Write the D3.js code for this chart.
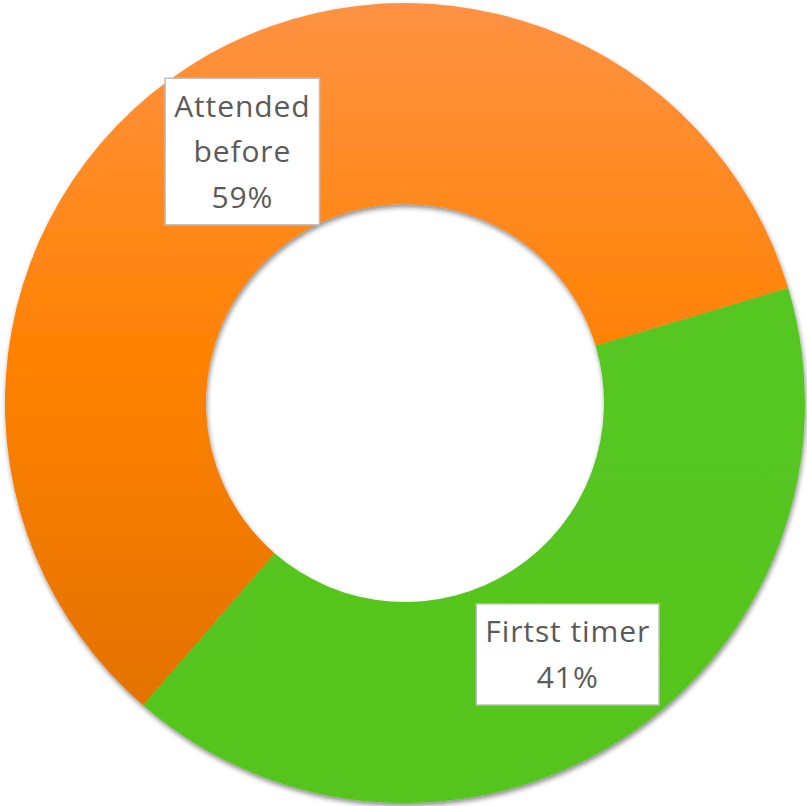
<!DOCTYPE html>
<html><head><meta charset="utf-8">
<script src="https://cdn.jsdelivr.net/npm/d3@7"></script>
<style>html,body{margin:0;padding:0;background:#fff;}</style>
</head><body>
<svg id="c" width="807" height="806"></svg>
<script>
const categories = ["Attended before", "Firtst timer"];
const values = [59, 41];
const labelLines = [["Attended", "before", "59%"], ["Firtst timer", "41%"]];

const svg = d3.select("#c");
const cx = 405, cy = 403, rOuter = 400, rInner = 199;
const defs = svg.append("defs");
const f = defs.append("filter").attr("id", "sh").attr("x", "-10%").attr("y", "-10%").attr("width", "120%").attr("height", "120%");
f.append("feDropShadow").attr("dx", 1).attr("dy", 3).attr("stdDeviation", 2.5).attr("flood-color", "#000").attr("flood-opacity", 0.45);

// gradients in the translated group's user space
const gO = defs.append("linearGradient").attr("id", "gO").attr("gradientUnits", "userSpaceOnUse")
  .attr("x1", 0).attr("y1", 3 - cy).attr("x2", 0).attr("y2", 710 - cy);
gO.append("stop").attr("offset", "0%").attr("stop-color", "#FF9243");
gO.append("stop").attr("offset", "50%").attr("stop-color", "#FF8202");
gO.append("stop").attr("offset", "100%").attr("stop-color", "#E37200");
const gG = defs.append("linearGradient").attr("id", "gG").attr("gradientUnits", "userSpaceOnUse")
  .attr("x1", 0).attr("y1", -rOuter).attr("x2", 0).attr("y2", rOuter);
gG.append("stop").attr("offset", "0%").attr("stop-color", "#57C821");
gG.append("stop").attr("offset", "100%").attr("stop-color", "#55C41F");
const fills = ["url(#gO)", "url(#gG)"];

const start = 220.9 * Math.PI / 180;
const pie = d3.pie().sort(null).value(d => d).startAngle(start).endAngle(start + 2 * Math.PI);
const arcs = pie(values);
const arc = d3.arc().innerRadius(rInner).outerRadius(rOuter);

const g = svg.append("g").attr("transform", `translate(${cx},${cy})`);
g.append("g").attr("filter", "url(#sh)").selectAll("path").data(arcs).join("path")
  .attr("d", arc).attr("fill", (d, i) => fills[i]);

const fontSize = 30, lh = 45.5;
arcs.forEach((d, i) => {
  const [x, y] = arc.centroid(d);
  const lines = labelLines[i];
  const lg = g.append("g").attr("transform", `translate(${x},${y})`);
  const t = lg.append("text").attr("text-anchor", "middle")
    .style("font-family", "'Open Sans', sans-serif").style("font-size", fontSize + "px")
    .style("letter-spacing", "0.9px").attr("fill", "#5A5A5A");
  lines.forEach((s, k) => {
    t.append("tspan").attr("x", 0).attr("y", (k - (lines.length - 1) / 2) * lh).attr("dy", "0.35em").text(s);
  });
  const bb = t.node().getBBox();
  const padX = 9, h = lines.length * lh + 10;
  lg.insert("rect", "text").attr("x", -bb.width / 2 - padX).attr("y", -h / 2).attr("width", bb.width + 2 * padX).attr("height", h)
    .attr("fill", "#fff").attr("stroke", "#BFBFBF").attr("stroke-width", 1.5);
});
</script>
</body></html>
